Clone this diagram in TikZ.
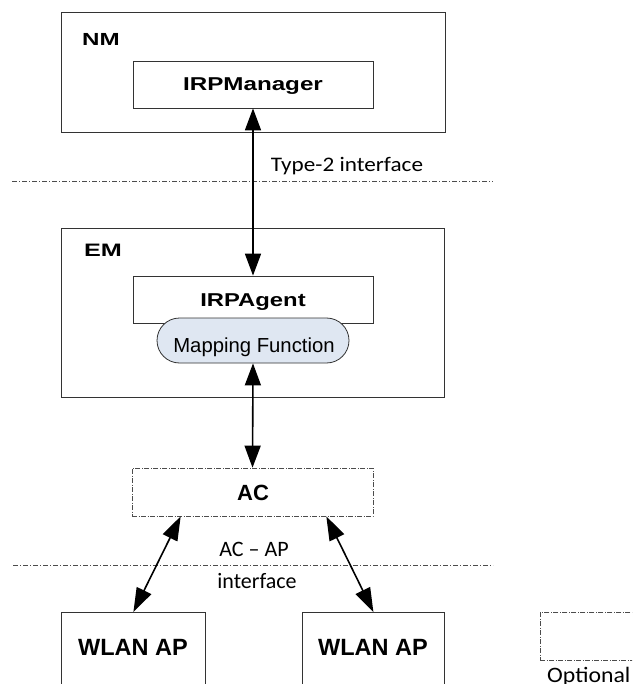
\documentclass[tikz,border=0pt]{standalone}
\usepackage{fontspec}
\usepackage{graphicx}
\setmainfont{Liberation Sans}
\newfontfamily\calfont{Carlito}
\usetikzlibrary{arrows.meta,calc}
\definecolor{mapfill}{HTML}{DFE7F2}
\tikzset{
  box/.style={draw=black!80, line width=0.8pt, inner sep=0pt},
  optbox/.style={draw=black!70, line width=0.6pt, inner sep=0pt, dash pattern=on 5pt off 1.5pt on 1pt off 1.5pt},
  sepline/.style={draw=black!70, line width=0.7pt, dash pattern=on 5pt off 2pt on 1pt off 2pt},
  lbl/.style={inner sep=0pt, anchor=base},
  conn/.style={line width=1.6pt, {Triangle[length=22pt,width=16pt]}-{Triangle[length=22pt,width=16pt]}},
  dconn/.style={line width=1.6pt, {Triangle[length=24pt,width=16pt]}-{Triangle[length=24pt,width=16pt]}},
}
\begin{document}
\begin{tikzpicture}[x=1pt,y=-1pt]
\useasboundingbox (0,0) rectangle (632,684);
\clip (0,0) rectangle (632,684);
\fill[white] (0,0) rectangle (632,684);

% NM
\node[box, minimum width=384pt, minimum height=120pt] (nm) at (253,72) {};
\node[lbl] (nmt) at (101,46) {\fontsize{17.5}{20}\selectfont\bfseries\scalebox{1.38}[1]{NM}};
\node[box, minimum width=240pt, minimum height=47pt] (mgr) at (253,84.5) {};
\node[lbl] (mgrt) at (253,91) {\fontsize{18.6}{22}\selectfont\bfseries\scalebox{1.3}[1]{IRPManager}};

% separator 1
\coordinate (s1a) at (12,181);
\coordinate (s1b) at (493,181);
\draw[sepline] (s1a) -- (s1b);
\node[lbl] (type2) at (347,171.7) {\fontsize{20.7}{24}\selectfont\calfont\scalebox{1.12}[1]{Type-2 interface}};

% EM
\node[box, minimum width=383pt, minimum height=169pt] (em) at (252.5,312.5) {};
\node[lbl] (emt) at (103,256) {\fontsize{18}{21}\selectfont\bfseries\scalebox{1.4}[1]{EM}};
\node[box, minimum width=240pt, minimum height=47pt] (agent) at (253,299.5) {};
\node[lbl] (agentt) at (253,306) {\fontsize{18.6}{22}\selectfont\bfseries\scalebox{1.28}[1]{IRPAgent}};
\node[box, fill=mapfill, rounded corners=22.5pt, minimum width=192pt, minimum height=45pt] (map) at (253,340.5) {};
\node[lbl] (mapt) at (254,352) {\fontsize{20.3}{24}\selectfont Mapping Function};

% AC
\node[optbox, minimum width=241pt, minimum height=48pt] (ac) at (252.5,492) {};
\node[lbl] (act) at (253,500) {\fontsize{22}{26}\selectfont\bfseries AC};

% separator 2
\coordinate (s2a) at (13,565);
\coordinate (s2b) at (493,565);
\draw[sepline] (s2a) -- (s2b);
\node[lbl] (acap) at (254,556) {\fontsize{22}{26}\selectfont\calfont AC – AP};
\node[lbl] (acapi) at (257,588) {\fontsize{22}{26}\selectfont\calfont interface};

% WLAN APs
\node[box, anchor=north west, minimum width=144pt, minimum height=90pt] (apl) at (61,612) {};
\node[lbl] (aplt) at (133,655) {\fontsize{23.5}{28}\selectfont\bfseries WLAN AP};
\node[box, anchor=north west, minimum width=142pt, minimum height=90pt] (apr) at (302,612) {};
\node[lbl] (aprt) at (373,655) {\fontsize{23.5}{28}\selectfont\bfseries WLAN AP};

% legend
\node[optbox, anchor=north west, minimum width=120pt, minimum height=48pt] (opt) at (540,612) {};
\node[inner sep=0pt, anchor=base west] (optt) at (547,682) {\fontsize{22}{26}\selectfont\calfont\scalebox{1.08}[1]{Optional}};

% connectors
\draw[conn] (mgr.south) -- (agent.north);
\draw[conn] (map.south) -- (ac.north);
\draw[dconn] ([xshift=49pt]ac.south west) -- (apl.north);
\draw[dconn] ([xshift=-47pt]ac.south east) -- (apr.north);
\end{tikzpicture}
\end{document}
